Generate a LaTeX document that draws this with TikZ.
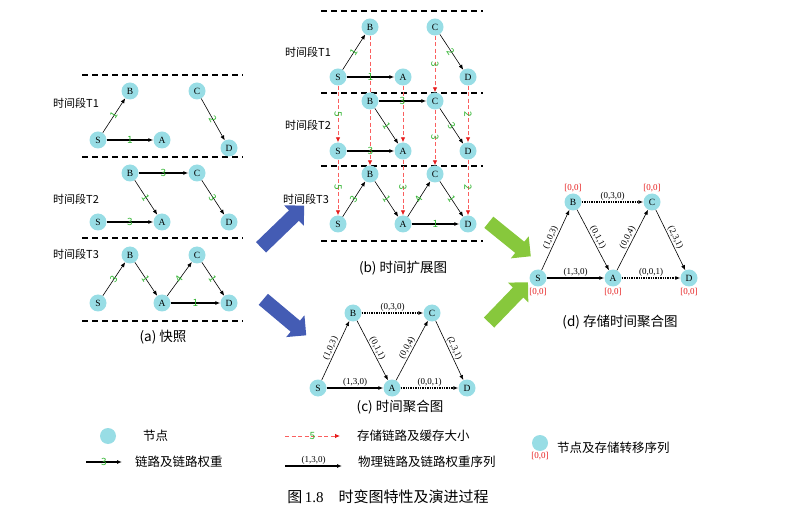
\documentclass[tikz,border=0pt]{standalone}
\usepackage{fontspec}
\setmainfont{Liberation Serif}
\newfontfamily\cjk{Noto Sans CJK SC}
\usetikzlibrary{arrows.meta,shapes.arrows}
\definecolor{vcyan}{RGB}{152,221,229}
\definecolor{wgreen}{RGB}{50,180,50}
\definecolor{hred}{RGB}{250,95,95}
\definecolor{tred}{RGB}{230,30,30}
\definecolor{abblue}{RGB}{68,92,180}
\definecolor{abgreen}{RGB}{135,200,60}
\begin{document}
\begin{tikzpicture}[x=1pt,y=-1pt,>={Latex[length=5pt,width=4pt]},
	vtx/.style={circle,fill=vcyan,inner sep=0pt,minimum size=17pt,font=\fontsize{9.5}{9.5}\selectfont},
	lnk/.style={->,line width=0.6pt},
	hlnk/.style={->,line width=1.4pt},
	dlnk/.style={->,line width=1.4pt,densely dotted},
	hold/.style={hred,dash pattern=on 4pt off 2.5pt,line width=0.8pt,-{Latex[length=5pt,width=4.5pt,color=tred]}},
	holdplain/.style={hred,dash pattern=on 4pt off 2.5pt,line width=0.8pt},
	wt/.style={sloped,text=wgreen,inner sep=0.5pt,font=\cjk\fontsize{10}{10}\selectfont},
	tup/.style={sloped,above,inner sep=1pt,font=\fontsize{9}{9}\selectfont},
	sto/.style={text=tred,inner sep=1pt,font=\fontsize{9}{9}\selectfont},
	slab/.style={anchor=west,inner sep=0pt,font=\cjk\fontsize{11}{11}\selectfont},
	legtxt/.style={slab,font=\cjk\fontsize{12.5}{12.5}\selectfont},
	captxt/.style={font=\cjk\fontsize{13.5}{13.5}\selectfont},
	sep/.style={dash pattern=on 6pt off 4pt,line width=1.3pt},
	bigarr/.style={single arrow,draw=none,minimum height=60pt,inner xsep=0pt,inner ysep=7pt,single arrow head extend=7pt}]
	\useasboundingbox (0,0) rectangle (789,526);
	% (a) snapshots
	\foreach \y in {75,157,238,321} \draw[sep] (82,\y)--(243,\y);
	\node[slab] (aT1) at (53,103) {时间段T1};
	\node[slab] (aT2) at (53,199) {时间段T2};
	\node[slab] (aT3) at (53,254) {时间段T3};
	\node[vtx] (a1B) at (130,91) {B};
	\node[vtx] (a1C) at (197,91) {C};
	\node[vtx] (a1S) at (98,140) {S};
	\node[vtx] (a1A) at (162,140) {A};
	\node[vtx] (a1D) at (229,148) {D};
	\draw[lnk] (a1S) -- node[wt]{1} (a1B);
	\draw[hlnk] (a1S) -- node[wt]{1} (a1A);
	\draw[lnk] (a1C) -- node[wt]{2} (a1D);
	\node[vtx] (a2B) at (130,173) {B};
	\node[vtx] (a2C) at (197,173) {C};
	\node[vtx] (a2S) at (98,222) {S};
	\node[vtx] (a2A) at (162,222) {A};
	\node[vtx] (a2D) at (229,222) {D};
	\draw[hlnk] (a2B) -- node[wt]{3} (a2C);
	\draw[lnk] (a2B) -- node[wt]{1} (a2A);
	\draw[lnk] (a2C) -- node[wt]{3} (a2D);
	\draw[hlnk] (a2S) -- node[wt]{3} (a2A);
	\node[vtx] (a3B) at (130,255) {B};
	\node[vtx] (a3C) at (197,255) {C};
	\node[vtx] (a3S) at (98,303) {S};
	\node[vtx] (a3A) at (162,303) {A};
	\node[vtx] (a3D) at (229,303) {D};
	\draw[lnk] (a3S) -- node[wt]{3} (a3B);
	\draw[lnk] (a3B) -- node[wt]{1} (a3A);
	\draw[lnk] (a3A) -- node[wt]{4} (a3C);
	\draw[lnk] (a3C) -- node[wt]{1} (a3D);
	\draw[hlnk] (a3A) -- node[wt]{1} (a3D);
	\node[captxt] (acap) at (163,337) {(a) 快照};
	% (b) time expanded graph
	\foreach \y in {11,93,166,241} \draw[sep] (321,\y)--(483,\y);
	\node[slab] (bT1) at (285,52) {时间段T1};
	\node[slab] (bT2) at (285,125) {时间段T2};
	\node[slab] (bT3) at (283,199) {时间段T3};
	\node[vtx] (b1B) at (370,27) {B};
	\node[vtx] (b1C) at (435,27) {C};
	\node[vtx] (b1S) at (338,77) {S};
	\node[vtx] (b1A) at (403,77) {A};
	\node[vtx] (b1D) at (468,77) {D};
	\node[vtx] (b2B) at (370,101) {B};
	\node[vtx] (b2C) at (435,101) {C};
	\node[vtx] (b2S) at (338,151) {S};
	\node[vtx] (b2A) at (403,151) {A};
	\node[vtx] (b2D) at (468,151) {D};
	\node[vtx] (b3B) at (370,174) {B};
	\node[vtx] (b3C) at (435,174) {C};
	\node[vtx] (b3S) at (338,224) {S};
	\node[vtx] (b3A) at (403,224) {A};
	\node[vtx] (b3D) at (468,224) {D};
	\draw[hold] (b1S) -- node[wt]{5} (b2S);
	\draw[hold] (b2S) -- node[wt]{5} (b3S);
	\draw[holdplain] (b1B) -- (b2B);
	\draw[hold] (b2B) -- (b3B);
	\draw[hold] (b1A) -- (b2A);
	\draw[hold] (b2A) -- node[wt]{3} (b3A);
	\draw[hold] (b1C) -- node[wt]{3} (b2C);
	\draw[hold] (b2C) -- node[wt]{3} (b3C);
	\draw[hold] (b1D) -- node[wt]{2} (b2D);
	\draw[hold] (b2D) -- node[wt]{2} (b3D);
	\draw[lnk] (b1S) -- node[wt]{1} (b1B);
	\draw[hlnk] (b1S) -- node[wt]{1} (b1A);
	\draw[lnk] (b1C) -- node[wt]{2} (b1D);
	\draw[hlnk] (b2B) -- node[wt]{3} (b2C);
	\draw[lnk] (b2B) -- node[wt]{1} (b2A);
	\draw[lnk] (b2C) -- node[wt]{3} (b2D);
	\draw[hlnk] (b2S) -- node[wt]{3} (b2A);
	\draw[lnk] (b3S) -- node[wt]{3} (b3B);
	\draw[lnk] (b3B) -- node[wt]{1} (b3A);
	\draw[lnk] (b3A) -- node[wt]{4} (b3C);
	\draw[lnk] (b3C) -- node[wt]{1} (b3D);
	\draw[hlnk] (b3A) -- node[wt]{1} (b3D);
	\node[captxt] (bcap) at (403,268) {(b) 时间扩展图};
	% (c) time aggregated graph
	\node[vtx] (cB) at (353,313) {B};
	\node[vtx] (cC) at (432,313) {C};
	\node[vtx] (cS) at (318,388) {S};
	\node[vtx] (cA) at (392,388) {A};
	\node[vtx] (cD) at (467,388) {D};
	\draw[lnk] (cS) -- node[tup]{(1,0,3)} (cB);
	\draw[lnk] (cB) -- node[tup]{(0,1,1)} (cA);
	\draw[lnk] (cA) -- node[tup]{(0,0,4)} (cC);
	\draw[lnk] (cC) -- node[tup]{(2,3,1)} (cD);
	\draw[hlnk] (cS) -- node[tup]{(1,3,0)} (cA);
	\draw[dlnk] (cB) -- node[tup]{(0,3,0)} (cC);
	\draw[dlnk] (cA) -- node[tup]{(0,0,1)} (cD);
	\node[captxt] (ccap) at (400,407) {(c) 时间聚合图};
	% (d) storage time aggregated graph
	\node[vtx] (dB) at (573,202) {B};
	\node[vtx] (dC) at (652,202) {C};
	\node[vtx] (dS) at (538,278) {S};
	\node[vtx] (dA) at (613,278) {A};
	\node[vtx] (dD) at (689,278) {D};
	\node[sto,anchor=south] (dBs) at (dB.north) {[0,0]};
	\node[sto,anchor=south] (dCs) at (dC.north) {[0,0]};
	\node[sto,anchor=north] (dSs) at (dS.south) {[0,0]};
	\node[sto,anchor=north] (dAs) at (dA.south) {[0,0]};
	\node[sto,anchor=north] (dDs) at (dD.south) {[0,0]};
	\draw[lnk] (dS) -- node[tup]{(1,0,3)} (dB);
	\draw[lnk] (dB) -- node[tup]{(0,1,1)} (dA);
	\draw[lnk] (dA) -- node[tup]{(0,0,4)} (dC);
	\draw[lnk] (dC) -- node[tup]{(2,3,1)} (dD);
	\draw[hlnk] (dS) -- node[tup]{(1,3,0)} (dA);
	\draw[dlnk] (dB) -- node[tup]{(0,3,0)} (dC);
	\draw[dlnk] (dA) -- node[tup]{(0,0,1)} (dD);
	\node[captxt] (dcap) at (620,322) {(d) 存储时间聚合图};
	% block arrows
	\node[bigarr,fill=abblue,rotate=44] (arb1) at (280,229) {};
	\node[bigarr,fill=abblue,rotate=-40,minimum height=56pt] (arb2) at (282,315) {};
	\node[bigarr,fill=abgreen,rotate=-39,minimum height=54pt] (arg1) at (507,237) {};
	\node[bigarr,fill=abgreen,rotate=46,minimum height=56pt] (arg2) at (506,305) {};
	% legend
	\node[vtx,minimum size=16pt] (lgv) at (108,436) {};
	\node[legtxt] (lgvt) at (143,436) {节点};
	\coordinate (lg1a) at (86,462);
	\coordinate (lg1b) at (122,462);
	\draw[hlnk] (lg1a) -- node[wt]{3} (lg1b);
	\node[legtxt] (lg1t) at (135,462) {链路及链路权重};
	\coordinate (lg2a) at (285,436);
	\coordinate (lg2b) at (340,436);
	\draw[hold] (lg2a) -- node[wt]{5} (lg2b);
	\node[legtxt] (lg2t) at (357,436) {存储链路及缓存大小};
	\coordinate (lg3a) at (285,466);
	\coordinate (lg3b) at (342,466);
	\draw[hlnk] (lg3a) -- node[tup]{(1,3,0)} (lg3b);
	\node[legtxt] (lg3t) at (358,462) {物理链路及链路权重序列};
	\node[vtx,minimum size=16pt] (lgs) at (540,443) {};
	\node[sto,anchor=north] (lgss) at (lgs.south) {[0,0]};
	\node[legtxt] (lgst) at (557,448) {节点及存储转移序列};
	% caption
	\node[font=\cjk\fontsize{15}{15}\selectfont] (fig) at (388,497) {图\,{\rmfamily 1.8}\quad 时变图特性及演进过程};
\end{tikzpicture}
\end{document}
